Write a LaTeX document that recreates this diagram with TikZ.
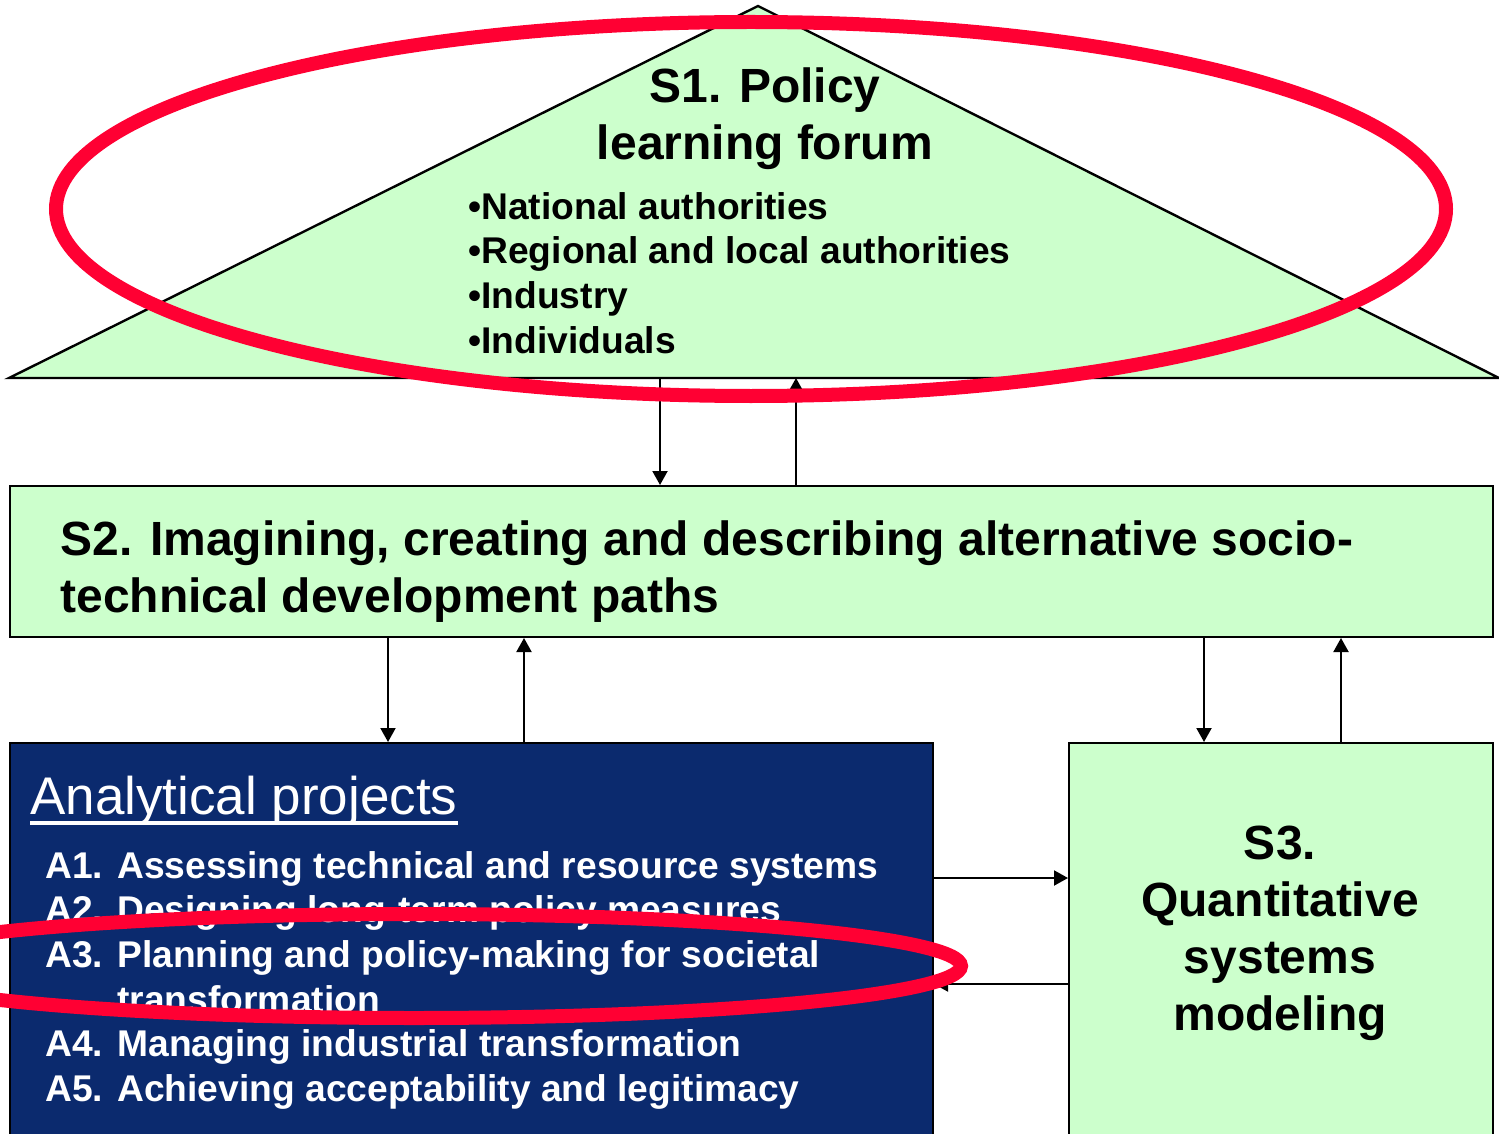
\documentclass[tikz,border=0pt]{standalone}
\usepackage{fontspec}
\setmainfont{Liberation Sans}
\usetikzlibrary{arrows.meta}
\definecolor{paleGreen}{HTML}{CCFFCC}
\definecolor{deepBlue}{HTML}{0B2A6E}
\definecolor{ringRed}{HTML}{FF0033}
\newcommand{\titleFont}{\bfseries\fontsize{24}{28.5}\selectfont}
\newcommand{\listFont}{\bfseries\fontsize{18.6}{22.3}\selectfont}
\newcommand{\itemLabel}[1]{\makebox[36pt][l]{#1}}
\newcommand{\thickUnderline}[1]{\setbox0\hbox{#1}\rlap{\copy0}\rule[-5pt]{\wd0}{1.8pt}}

\begin{document}
\begin{tikzpicture}[x=0.5pt, y=-0.5pt]
  \tikzset{box/.style={draw=black, line width=1pt, fill=paleGreen, anchor=north west, inner sep=0pt},
    link/.style={line width=1pt, -{Triangle[length=7pt, width=7.5pt]}},
    ring/.style={draw=ringRed, line width=7pt},
    label/.style={inner sep=0pt}}
  \useasboundingbox (0,0) rectangle (1499,1134);
  \clip (0,0) rectangle (1499,1134);

  \coordinate (s1top) at (758,6);
  \coordinate (s1left) at (9,378);
  \coordinate (s1right) at (1499,378);
  \draw[line width=1.2pt, fill=paleGreen] (s1left) -- (s1top) -- (s1right) -- cycle;
  \node[label, anchor=north, align=center, font=\titleFont] (s1title) at (765,67) {S1. Policy\\learning forum};
  \node[label, anchor=north west, align=left, font=\listFont] (s1list) at (468,192)
    {•National authorities\\•Regional and local authorities\\•Industry\\•Individuals};

  \node[box, minimum width=741.5pt, minimum height=75.5pt] (s2) at (9,485) {};
  \node[label, anchor=north west, align=left, font=\titleFont] (s2text) at (60,520)
    {S2. Imagining, creating and describing alternative socio-\\technical development paths};

  \node[box, fill=deepBlue, minimum width=461.5pt, minimum height=200pt] (proj) at (9,742) {};
  \node[box, minimum width=212pt, minimum height=200pt] (s3) at (1068,742) {};

  \node[label, anchor=north west, text=white, font=\fontsize{26.5}{31}\selectfont] (projtitle) at (30,776)
    {\thickUnderline{Analytical projects}};
  \node[label, anchor=north west, align=left, text=white, font=\listFont] (projlist) at (45,851)
    {\itemLabel{A1.}Assessing technical and resource systems\\
     \itemLabel{A2.}Designing long-term policy measures\\
     \itemLabel{A3.}Planning and policy-making for societal\\
     \itemLabel{}transformation\\
     \itemLabel{A4.}Managing industrial transformation\\
     \itemLabel{A5.}Achieving acceptability and legitimacy};
  \node[label, anchor=north, align=center, font=\titleFont] (s3text) at (1280,826)
    {S3.\\Quantitative\\systems\\modeling};

  \draw[link] (660,0 |- s1left) -- (660,0 |- s2.north);
  \draw[link] (796,0 |- s2.north) -- (796,0 |- s1left);
  \draw[link] (388,0 |- s2.south) -- (388,0 |- proj.north);
  \draw[link] (524,0 |- proj.north) -- (524,0 |- s2.south);
  \draw[link] (1204,0 |- s2.south) -- (1204,0 |- s3.north);
  \draw[link] (1341,0 |- s3.north) -- (1341,0 |- s2.south);
  \draw[link] (proj.east |- 0,878) -- (s3.west |- 0,878);
  \draw[link] (s3.west |- 0,984) -- (proj.east |- 0,984);

  \draw[ring] (751,209) ellipse [x radius=347.5pt, y radius=93.5pt];
  \draw[ring] (414,966) ellipse [x radius=273.5pt, y radius=26pt];
\end{tikzpicture}
\end{document}
